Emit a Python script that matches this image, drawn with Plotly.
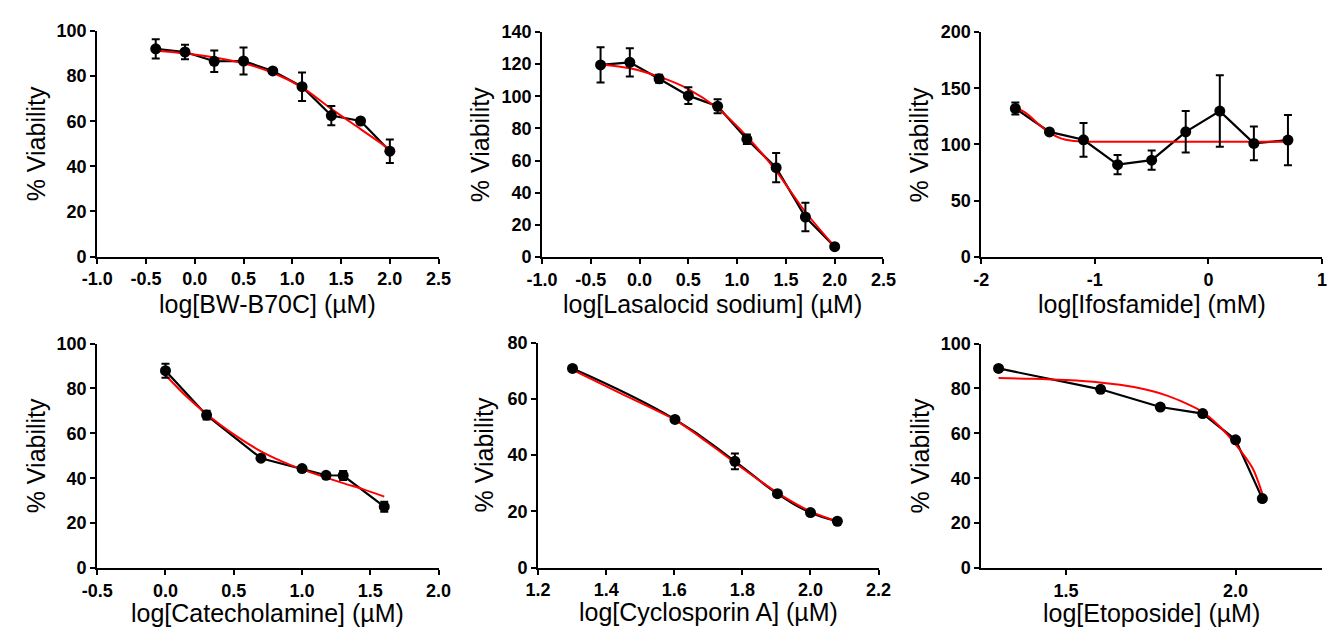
import plotly.graph_objects as go
from plotly.subplots import make_subplots

# ---------------- data ----------------
bw_x = [-0.4, -0.1, 0.2, 0.5, 0.8, 1.1, 1.4, 1.7, 2.0]
bw_y = [92.1, 90.7, 86.6, 86.7, 82.3, 75.3, 62.5, 60.1, 46.7]
bw_err = [4.3, 3.2, 4.8, 6.0, 1.0, 6.3, 4.3, 0.8, 5.2]
bw_fit_x = [-0.4, -0.1, 0.2, 0.5, 0.8, 1.1, 1.4, 1.7, 2.0]
bw_fit_y = [91.2, 90.0, 88.3, 85.7, 81.5, 75.0, 65.5, 56.5, 47.5]

las_x = [-0.4, -0.1, 0.2, 0.5, 0.8, 1.1, 1.4, 1.7, 2.0]
las_y = [119.5, 121.1, 110.9, 100.4, 93.8, 73.3, 55.6, 24.9, 6.4]
las_err = [11.0, 8.8, 2.5, 5.2, 4.4, 3.0, 9.1, 8.9, 1.0]
las_fit_x = [-0.4, -0.1, 0.2, 0.5, 0.8, 1.1, 1.4, 1.7, 2.0]
las_fit_y = [120.0, 117.5, 112.2, 104.5, 92.5, 75.0, 53.5, 28.0, 6.5]

ifo_x = [-1.7, -1.4, -1.1, -0.8, -0.5, -0.2, 0.1, 0.4, 0.7]
ifo_y = [132.0, 111.2, 104.2, 82.1, 86.1, 111.3, 129.7, 101.0, 103.9]
ifo_err = [5.4, 2.0, 15.0, 8.5, 8.5, 18.5, 31.8, 15.0, 22.3]
ifo_fit_x = [-1.7, -1.6, -1.5, -1.4, -1.3, -1.2, -1.1, -1.0, -0.8, 0.7]
ifo_fit_y = [133.0, 127.5, 118.5, 110.5, 105.5, 103.3, 102.7, 102.5, 102.5, 102.5]

cat_x = [0.0, 0.301, 0.699, 1.0, 1.176, 1.301, 1.602]
cat_y = [87.9, 68.1, 48.9, 44.3, 41.3, 41.2, 27.3]
cat_err = [3.1, 2.0, 0.8, 0.8, 0.8, 2.0, 2.2]
cat_fit_x = [0.0, 0.15, 0.301, 0.5, 0.699, 0.9, 1.1, 1.3, 1.45, 1.602]
cat_fit_y = [86.0, 76.6, 68.6, 59.5, 52.0, 46.3, 41.8, 37.8, 35.0, 31.8]

cyc_x = [1.301, 1.602, 1.778, 1.903, 2.0, 2.079]
cyc_y = [70.8, 52.7, 37.8, 26.3, 19.6, 16.5]
cyc_err = [0.5, 0.5, 2.8, 0.5, 0.5, 0.5]
cyc_fit_x = [1.301, 1.45, 1.602, 1.7, 1.778, 1.85, 1.903, 2.0, 2.079]
cyc_fit_y = [70.3, 61.5, 52.5, 44.3, 37.3, 31.0, 26.6, 20.0, 16.4]

eto_x = [1.301, 1.602, 1.778, 1.903, 2.0, 2.079]
eto_y = [88.9, 79.6, 71.7, 68.8, 57.1, 30.9]
eto_err = [0.5, 0.5, 0.5, 0.5, 0.5, 0.5]
eto_fit_x = [1.301, 1.4, 1.5, 1.6, 1.7, 1.8, 1.9, 1.95, 2.0, 2.05, 2.079]
eto_fit_y = [84.6, 84.3, 83.7, 82.6, 80.6, 76.7, 69.8, 63.5, 55.1, 44.5, 33.0]

x_ticks_a = [-1.0, -0.5, 0.0, 0.5, 1.0, 1.5, 2.0, 2.5]
x_labels_a = ["-1.0", "-0.5", "0.0", "0.5", "1.0", "1.5", "2.0", "2.5"]
x_ticks_ifo = [-2, -1, 0, 1]
x_labels_ifo = ["-2", "-1", "0", "1"]
x_ticks_cat = [-0.5, 0.0, 0.5, 1.0, 1.5, 2.0]
x_labels_cat = ["-0.5", "0.0", "0.5", "1.0", "1.5", "2.0"]
x_ticks_cyc = [1.2, 1.4, 1.6, 1.8, 2.0, 2.2]
x_labels_cyc = ["1.2", "1.4", "1.6", "1.8", "2.0", "2.2"]
x_ticks_eto = [1.5, 2.0]
x_labels_eto = ["1.5", "2.0"]

y_ticks_100 = [0, 20, 40, 60, 80, 100]
y_ticks_140 = [0, 20, 40, 60, 80, 100, 120, 140]
y_ticks_200 = [0, 50, 100, 150, 200]
y_ticks_80 = [0, 20, 40, 60, 80]

x_titles = ["log[BW-B70C] (µM)", "log[Lasalocid sodium] (µM)", "log[Ifosfamide] (mM)",
            "log[Catecholamine] (µM)", "log[Cyclosporin A] (µM)", "log[Etoposide] (µM)"]
y_title = "% Viability"

W, H = 1336, 639
panels = [
    dict(data=(bw_x, bw_y, bw_err, bw_fit_x, bw_fit_y), xr=[-1.0, 2.5], yr=[0, 100], yt=y_ticks_100,
         xt=(x_ticks_a, x_labels_a), px=(83, 432), py=(21.7, 254.5), ytx=23, spline=False),
    dict(data=(las_x, las_y, las_err, las_fit_x, las_fit_y), xr=[-1.0, 2.5], yr=[0, 140], yt=y_ticks_140,
         xt=(x_ticks_a, x_labels_a), px=(537.7, 886.7), py=(22.7, 255), ytx=477, spline=False),
    dict(data=(ifo_x, ifo_y, ifo_err, ifo_fit_x, ifo_fit_y), xr=[-2, 1], yr=[0, 200], yt=y_ticks_200,
         xt=(x_ticks_ifo, x_labels_ifo), px=(986.7, 1335), py=(22.7, 255), ytx=926, spline=False),
    dict(data=(cat_x, cat_y, cat_err, cat_fit_x, cat_fit_y), xr=[-0.5, 2.0], yr=[0, 100], yt=y_ticks_100,
         xt=(x_ticks_cat, x_labels_cat), px=(83, 432), py=(344.3, 576), ytx=23, spline=False),
    dict(data=(cyc_x, cyc_y, cyc_err, cyc_fit_x, cyc_fit_y), xr=[1.2, 2.2], yr=[0, 80], yt=y_ticks_80,
         xt=(x_ticks_cyc, x_labels_cyc), px=(533.7, 881.7), py=(343.3, 575.7), ytx=481.7, spline=True),
    dict(data=(eto_x, eto_y, eto_err, eto_fit_x, eto_fit_y), xr=[1.25, 2.255], yr=[0, 100], yt=y_ticks_100,
         xt=(x_ticks_eto, x_labels_eto), px=(986.7, 1335), py=(344.3, 576), ytx=926.7, spline=False),
]

FONT = "Liberation Sans, Arial, sans-serif"
fig = make_subplots(rows=2, cols=3)

annotations = []
for i, p in enumerate(panels):
    r, c = i // 3 + 1, i % 3 + 1
    xs, ys, es, fx, fy = p["data"]
    if p["spline"]:
        bline = dict(color="black", width=2.2, shape="spline", smoothing=1.3)
    else:
        bline = dict(color="black", width=2.2, shape="linear")
    fig.add_trace(go.Scatter(x=xs, y=ys, mode="lines", line=bline,
                             showlegend=False, hoverinfo="skip"), row=r, col=c)
    fig.add_trace(go.Scatter(x=fx, y=fy, mode="lines",
                             line=dict(color="#ff0000", width=2, shape="spline", smoothing=0.8),
                             showlegend=False, hoverinfo="skip"), row=r, col=c)
    fig.add_trace(go.Scatter(x=xs, y=ys, mode="markers",
                             marker=dict(color="black", size=11),
                             error_y=dict(type="data", array=es, visible=True,
                                          color="black", thickness=2, width=4),
                             showlegend=False), row=r, col=c)

    x0, x1 = p["px"]
    ytop, ybot = p["py"]
    xd = [x0 / W, x1 / W]
    yd = [(H - ybot) / H, (H - ytop) / H]
    axis_common = dict(showline=True, linecolor="black", linewidth=2, ticks="outside",
                       ticklen=5, tickwidth=2, tickcolor="black", showgrid=False,
                       zeroline=False, tickmode="array",
                       tickfont=dict(family=FONT, size=18, color="black"))
    fig.update_xaxes(domain=xd, range=p["xr"],
                     tickvals=p["xt"][0], ticktext=["<b>%s</b>" % t for t in p["xt"][1]],
                     row=r, col=c, **axis_common)
    fig.update_yaxes(domain=yd, range=p["yr"],
                     tickvals=p["yt"], ticktext=["<b>%d</b>" % t for t in p["yt"]],
                     row=r, col=c, **axis_common)

    cap_mid = ybot + 49 if r == 1 else ybot + 46
    annotations.append(dict(text=x_titles[i], x=(x0 + x1) / 2 / W, y=(H - cap_mid) / H,
                            xref="paper", yref="paper", xanchor="center", yanchor="middle",
                            showarrow=False, font=dict(family=FONT, size=25, color="black")))
    annotations.append(dict(text=y_title, x=(p["ytx"] - 3) / W, y=(H - (ytop + ybot) / 2) / H,
                            xref="paper", yref="paper", xanchor="center", yanchor="middle",
                            textangle=-90, showarrow=False,
                            font=dict(family=FONT, size=25, color="black")))

fig.update_layout(width=W, height=H, margin=dict(l=0, r=0, t=0, b=0),
                  paper_bgcolor="white", plot_bgcolor="white",
                  annotations=annotations, showlegend=False)

fig.write_html("out.html", config={"displayModeBar": False, "responsive": False},
               post_script=("document.documentElement.style.margin='0px';"
                            "document.body.style.margin='0px';"
                            "document.body.style.padding='0px';"
                            "document.documentElement.style.overflow='hidden';"
                            "document.body.style.overflow='hidden';"))
